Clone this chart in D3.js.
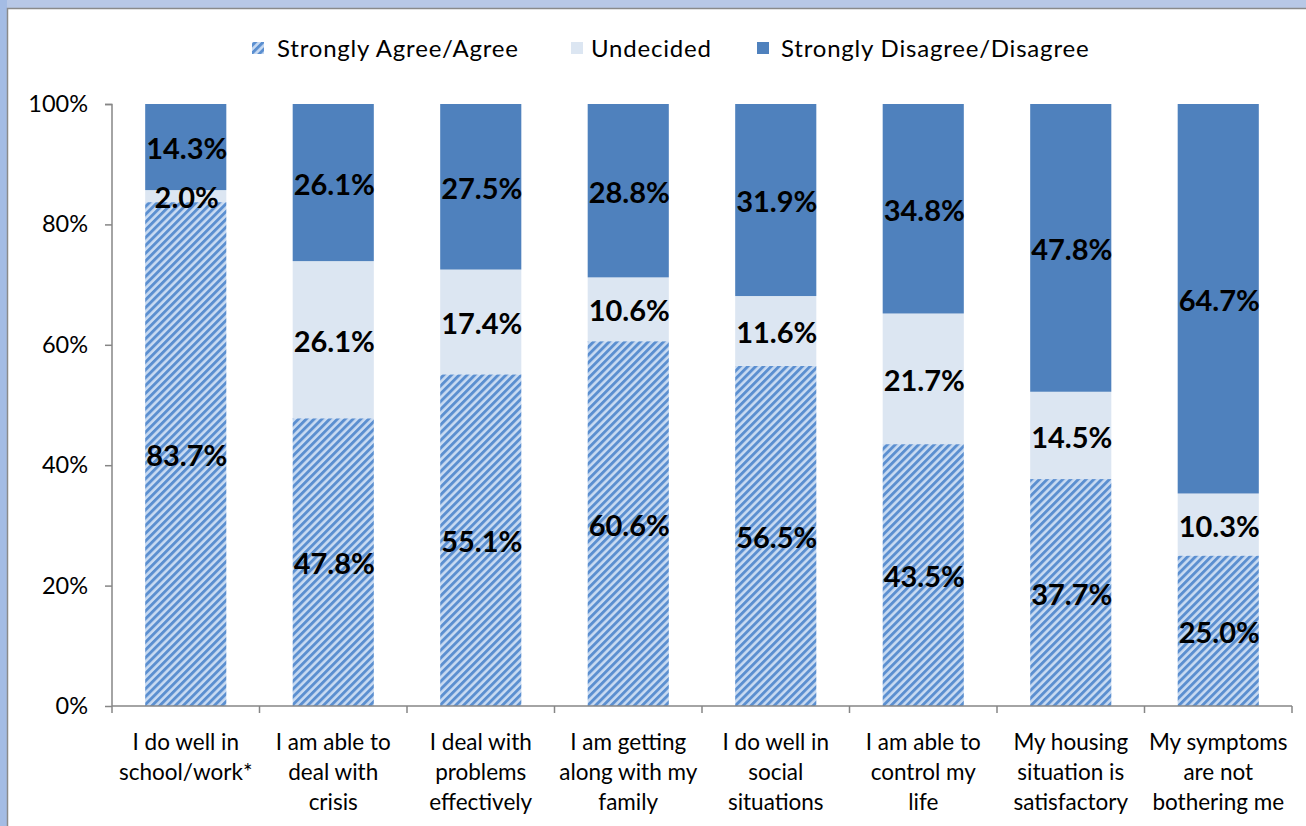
<!DOCTYPE html>
<html>
<head>
<meta charset="utf-8">
<script src="https://cdn.jsdelivr.net/npm/d3@7"></script>
<style>
  html, body { margin: 0; padding: 0; background: #fff; }
  svg { display: block; font-family: Lato, "Open Sans", sans-serif; }
</style>
</head>
<body>
<svg id="chart" width="1306" height="826"></svg>
<script>
  const categories = [
    ["I do well in", "school/work*"],
    ["I am able to", "deal with", "crisis"],
    ["I deal with", "problems", "effectively"],
    ["I am getting", "along with my", "family"],
    ["I do well in", "social", "situations"],
    ["I am able to", "control my", "life"],
    ["My housing", "situation is", "satisfactory"],
    ["My symptoms", "are not", "bothering me"]
  ];
  const agree =     [83.7, 47.8, 55.1, 60.6, 56.5, 43.5, 37.7, 25.0];
  const undecided = [2.0, 26.1, 17.4, 10.6, 11.6, 21.7, 14.5, 10.3];
  const disagree =  [14.3, 26.1, 27.5, 28.8, 31.9, 34.8, 47.8, 64.7];
  const seriesNames = ["Strongly Agree/Agree", "Undecided", "Strongly Disagree/Disagree"];
  const yTicks = [0, 20, 40, 60, 80, 100];

  const svg = d3.select("#chart");
  const W = 1306, H = 826;

  // window-ish frame on top/left
  svg.append("rect").attr("x", 0).attr("y", 0).attr("width", W).attr("height", 8).attr("fill", "#b8c8e6");
  svg.append("rect").attr("x", 0).attr("y", 0).attr("width", 7).attr("height", H).attr("fill", "#a4bce4");
  svg.append("path").attr("d", `M7.5,${H} V8.5 H${W}`).attr("fill", "none").attr("stroke", "#8a8a8a").attr("stroke-width", 1.5);

  // hatch pattern
  const defs = svg.append("defs");
  const pat = defs.append("pattern").attr("id", "hatch")
    .attr("patternUnits", "userSpaceOnUse").attr("width", 5.5).attr("height", 5.5)
    .attr("patternTransform", "rotate(45)");
  pat.append("rect").attr("width", 5.5).attr("height", 5.5).attr("fill", "#c9dbf2");
  pat.append("rect").attr("width", 2.9).attr("height", 5.5).attr("fill", "#5b8fd0");

  const colors = ["url(#hatch)", "#dce6f2", "#4f81bd"];

  const m = { left: 112, right: 1292, top: 104, bottom: 706 };
  const x = d3.scaleBand().domain(d3.range(categories.length)).range([m.left, m.right]).paddingInner(0.45).paddingOuter(0.225);
  const y = d3.scaleLinear().domain([0, 100]).range([m.bottom, m.top]);

  const rows = categories.map((c, i) => ({ i, agree: agree[i], undecided: undecided[i], disagree: disagree[i] }));
  const stack = d3.stack().keys(["agree", "undecided", "disagree"])(rows);

  const g = svg.append("g");
  stack.forEach((layer, li) => {
    g.append("g").selectAll("rect").data(layer).join("rect")
      .attr("x", d => x(d.data.i))
      .attr("width", x.bandwidth())
      .attr("y", d => y(d[1]))
      .attr("height", d => y(d[0]) - y(d[1]))
      .attr("fill", colors[li]);
  });

  // data labels
  stack.forEach(layer => {
    g.append("g").selectAll("text").data(layer).join("text")
      .attr("x", d => x(d.data.i) + x.bandwidth() / 2 + 1)
      .attr("y", d => y((d[0] + d[1]) / 2))
      .attr("dy", "0.42em")
      .attr("text-anchor", "middle")
      .attr("font-size", 29).attr("font-weight", 700).attr("fill", "#000")
      .text(d => (d[1] - d[0]).toFixed(1) + "%");
  });

  // y axis
  const yAxis = svg.append("g").attr("transform", `translate(${m.left},0)`)
    .call(d3.axisLeft(y).tickValues(yTicks).tickSize(7).tickPadding(17).tickFormat(d => d + "%"));
  yAxis.select(".domain").attr("stroke", "#868686").attr("stroke-width", 1.5).attr("d", `M-7,${m.top}.5 H0 V${m.bottom}`);
  yAxis.selectAll(".tick line").attr("stroke", "#868686").attr("stroke-width", 1.5);
  yAxis.selectAll(".tick text").attr("font-size", 23.5).attr("fill", "#000").attr("font-family", "Lato, sans-serif");

  // x axis
  const xAxisY = m.bottom;
  const xa = svg.append("g");
  xa.append("line").attr("x1", m.left).attr("x2", m.right).attr("y1", xAxisY).attr("y2", xAxisY)
    .attr("stroke", "#868686").attr("stroke-width", 1.5);
  const bounds = d3.range(categories.length + 1).map(k => m.left + k * (m.right - m.left) / categories.length);
  xa.selectAll(".xt").data(bounds).join("line")
    .attr("x1", d => d).attr("x2", d => d).attr("y1", xAxisY).attr("y2", xAxisY + 7)
    .attr("stroke", "#868686").attr("stroke-width", 1.5);

  const labels = xa.selectAll(".xl").data(categories).join("text")
    .attr("x", (d, i) => x(i) + x.bandwidth() / 2)
    .attr("y", 750)
    .attr("text-anchor", "middle")
    .attr("font-size", 22.5).attr("fill", "#000");
  labels.each(function(lines) {
    d3.select(this).selectAll("tspan").data(lines).join("tspan")
      .attr("x", d3.select(this).attr("x"))
      .attr("dy", (d, k) => k === 0 ? 0 : 30)
      .text(d => d);
  });

  // legend
  const legendItems = [
    { name: seriesNames[0], fill: colors[0], sx: 252, tx: 277 },
    { name: seriesNames[1], fill: colors[1], sx: 571, tx: 591 },
    { name: seriesNames[2], fill: colors[2], sx: 757, tx: 781 }
  ];
  const lg = svg.append("g");
  legendItems.forEach(it => {
    lg.append("rect").attr("x", it.sx).attr("y", 42).attr("width", 12).attr("height", 12).attr("fill", it.fill);
    lg.append("text").attr("x", it.tx).attr("y", 57).attr("font-size", 24).attr("letter-spacing", 0.8)
      .attr("fill", "#000").text(it.name);
  });
</script>
</body>
</html>
